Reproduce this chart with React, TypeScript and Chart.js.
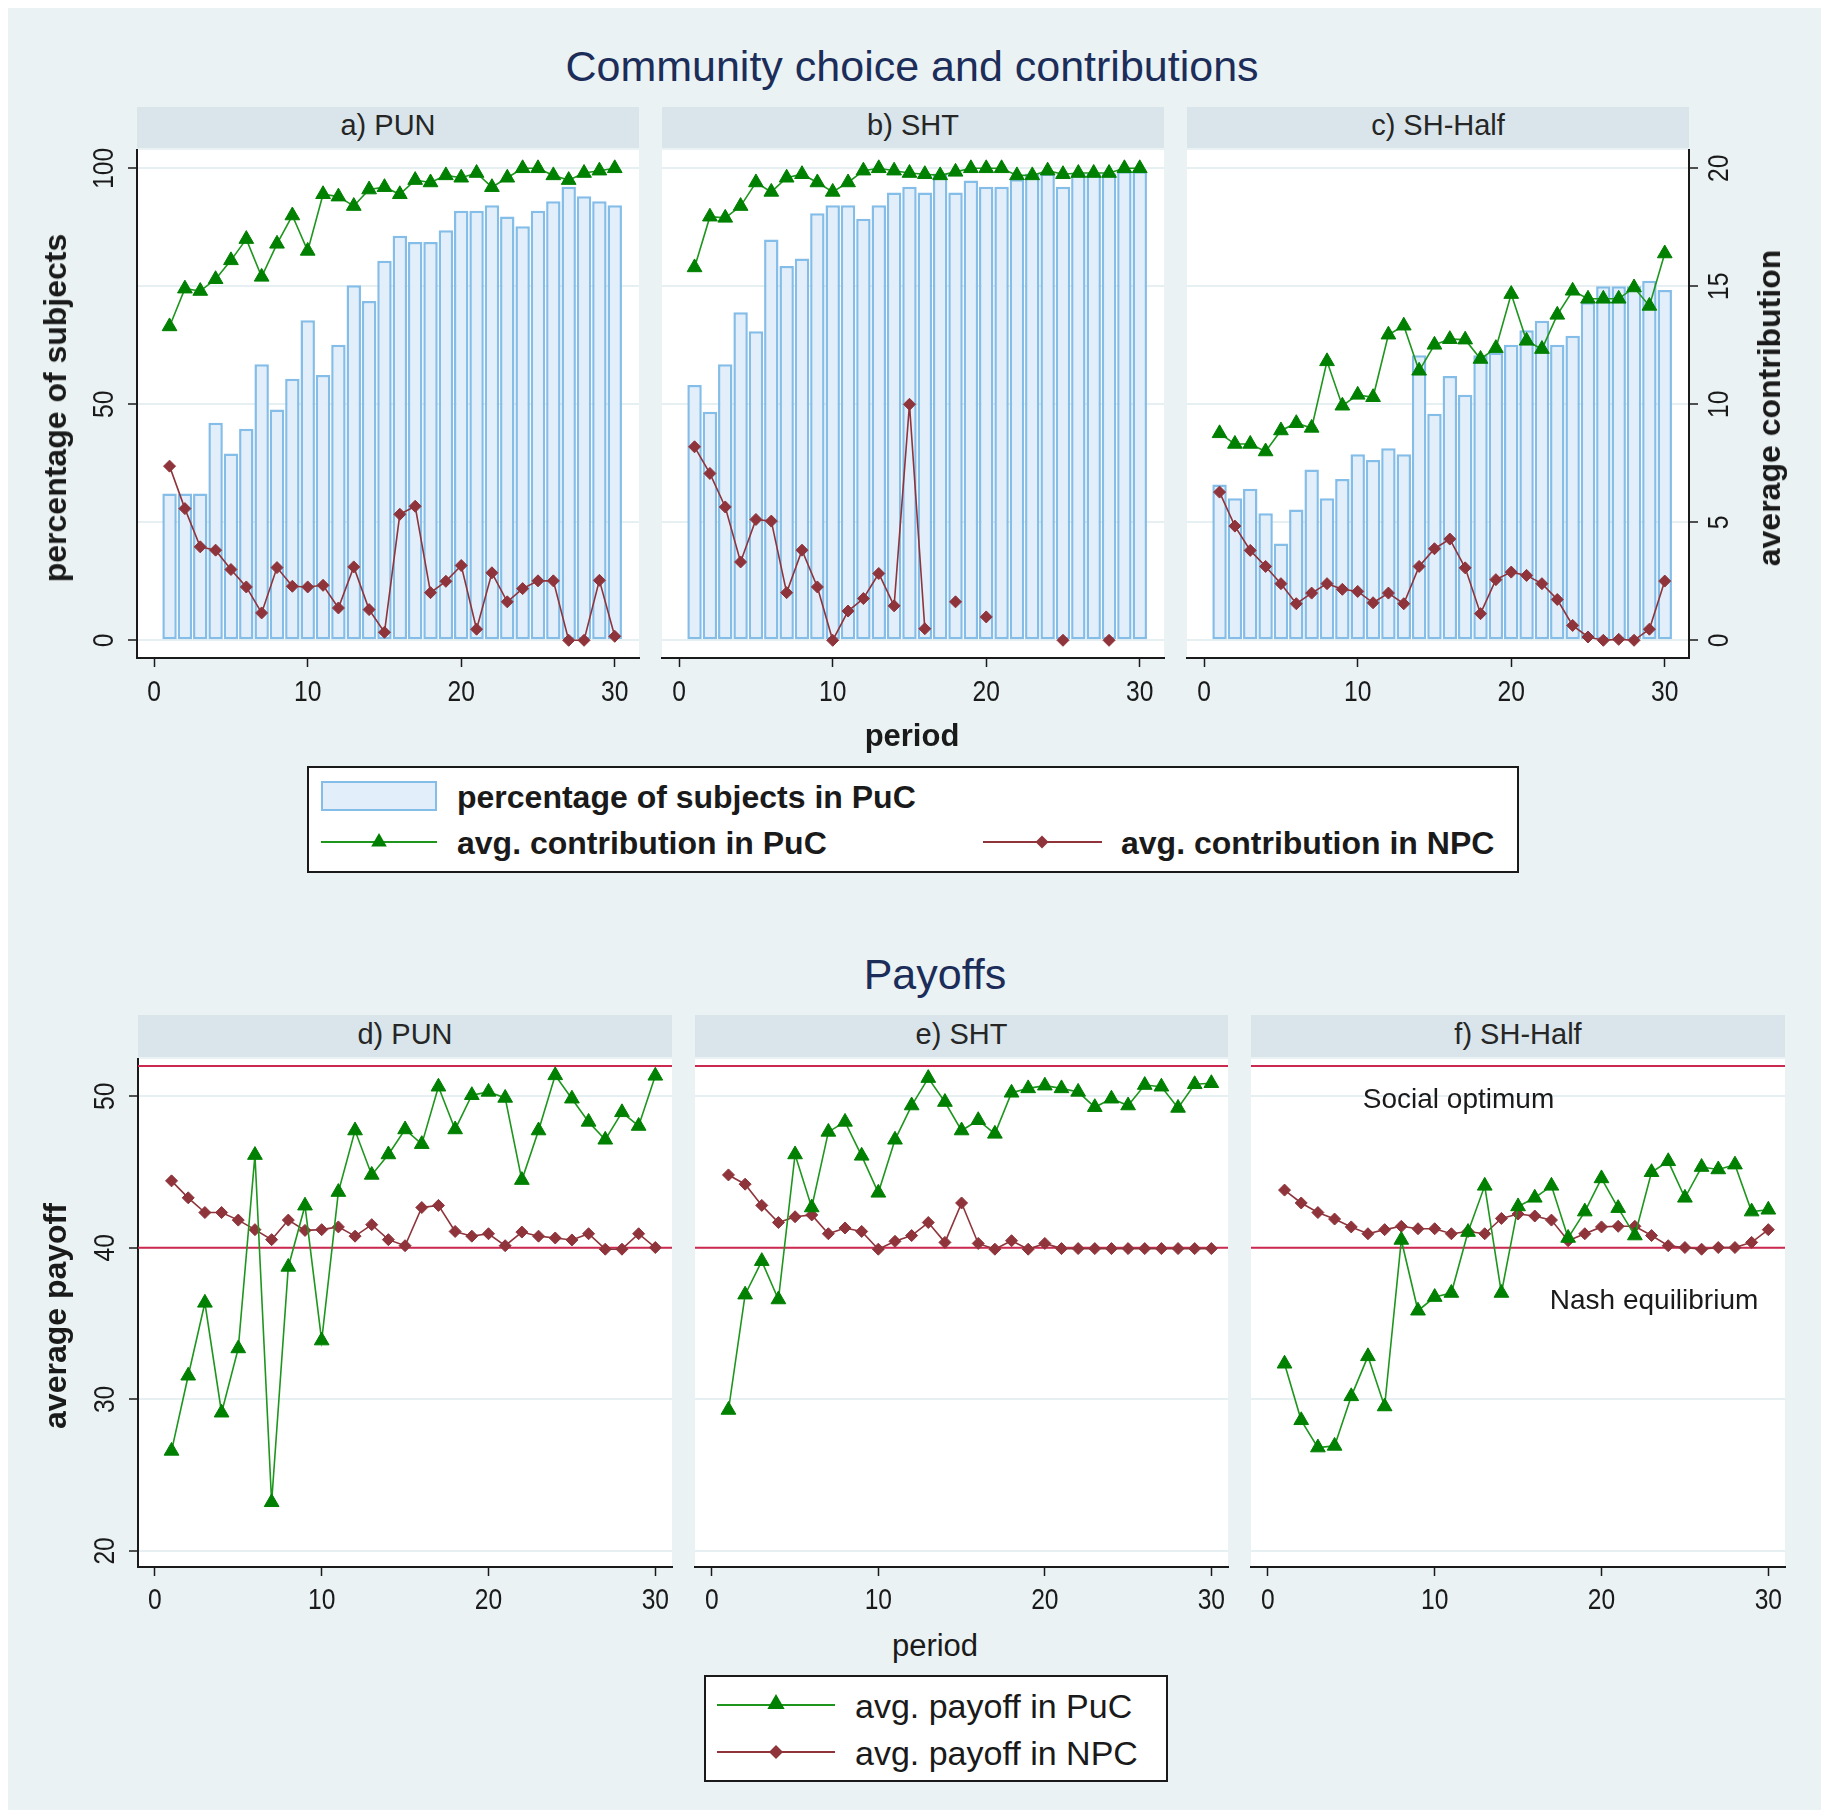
import React, { useEffect, useRef } from "react";
import { Chart, registerables } from "chart.js";

Chart.register(...registerables);

// ---------------- data ----------------
const PERIODS = [1, 2, 3, 4, 5, 6, 7, 8, 9, 10, 11, 12, 13, 14, 15, 16, 17, 18, 19, 20, 21, 22, 23, 24, 25, 26, 27, 28, 29, 30];
const PERIOD_TICKS = [0, 10, 20, 30];
const SHARE_TICKS = [0, 50, 100];
const CONTRIBUTION_TICKS = [0, 5, 10, 15, 20];
const PAYOFF_TICKS = [20, 30, 40, 50];
const SOCIAL_OPTIMUM = 52;
const NASH_EQUILIBRIUM = 40;

// percentage of subjects in PuC
const PUN_SHARE = [31.1, 31.1, 31.1, 46.1, 39.6, 44.8, 58.5, 48.9, 55.4, 67.8, 56.2, 62.6, 75.2, 71.9, 80.4, 85.7, 84.4, 84.4, 86.9, 91.0, 91.0, 92.2, 89.8, 87.7, 91.0, 93.0, 96.1, 94.1, 93.0, 92.2];
const SHT_SHARE = [54.1, 48.4, 58.5, 69.5, 65.5, 84.9, 79.3, 80.9, 90.5, 92.2, 92.2, 89.3, 92.2, 94.9, 96.1, 94.9, 98.9, 94.9, 97.4, 96.1, 96.1, 97.7, 98.9, 98.9, 96.1, 98.9, 98.9, 98.9, 99.4, 99.4];
const SHHALF_SHARE = [33.0, 30.1, 32.1, 26.9, 20.5, 27.7, 36.2, 30.1, 34.2, 39.4, 38.2, 40.7, 39.4, 60.4, 48.0, 56.0, 52.0, 60.4, 61.0, 62.6, 65.7, 67.7, 62.6, 64.5, 71.6, 75.0, 75.0, 75.0, 76.2, 74.2];

// average contribution in PuC / NPC
const PUN_CONTRIB_PUC = [13.3, 14.9, 14.8, 15.3, 16.1, 17.0, 15.4, 16.8, 18.0, 16.5, 18.9, 18.8, 18.4, 19.1, 19.2, 18.9, 19.5, 19.4, 19.7, 19.6, 19.8, 19.2, 19.6, 20.0, 20.0, 19.7, 19.5, 19.8, 19.9, 20.0];
const PUN_CONTRIB_NPC = [7.38, 5.58, 3.96, 3.82, 3.0, 2.26, 1.16, 3.08, 2.29, 2.26, 2.33, 1.37, 3.11, 1.3, 0.34, 5.34, 5.68, 2.02, 2.5, 3.17, 0.47, 2.86, 1.63, 2.19, 2.52, 2.52, 0, 0, 2.54, 0.17];
const SHT_CONTRIB_PUC = [15.8, 17.95, 17.9, 18.4, 19.4, 19.0, 19.6, 19.75, 19.4, 19.0, 19.4, 19.9, 20.0, 19.9, 19.8, 19.75, 19.7, 19.85, 20.0, 20.0, 20.0, 19.7, 19.7, 19.9, 19.75, 19.8, 19.8, 19.8, 20.0, 20.0];
const SHT_CONTRIB_NPC = [8.2, 7.07, 5.65, 3.32, 5.12, 5.05, 2.02, 3.82, 2.26, 0, 1.24, 1.77, 2.83, 1.46, 10.0, 0.49, null, 1.63, null, 0.99, null, null, null, null, 0, null, null, 0, null, null];
const SHHALF_CONTRIB_PUC = [8.77, 8.32, 8.32, 8.0, 8.89, 9.2, 9.0, 11.82, 9.94, 10.4, 10.3, 12.95, 13.33, 11.42, 12.52, 12.76, 12.74, 11.92, 12.38, 14.67, 12.69, 12.34, 13.79, 14.81, 14.47, 14.47, 14.47, 14.95, 14.17, 16.39];
const SHHALF_CONTRIB_NPC = [6.28, 4.84, 3.81, 3.13, 2.4, 1.55, 2.0, 2.4, 2.16, 2.07, 1.59, 2.0, 1.55, 3.13, 3.88, 4.29, 3.07, 1.13, 2.57, 2.89, 2.75, 2.4, 1.73, 0.63, 0.14, 0, 0.04, 0, 0.47, 2.51];

// average payoff in PuC / NPC
const PUN_PAY_PUC = [26.6, 31.56, 36.37, 29.12, 33.36, 46.12, 23.21, 38.74, 42.78, 33.88, 43.68, 47.74, 44.81, 46.16, 47.81, 46.84, 50.63, 47.81, 50.07, 50.29, 49.89, 44.47, 47.74, 51.38, 49.84, 48.31, 47.13, 48.94, 48.04, 51.35];
const PUN_PAY_NPC = [44.42, 43.3, 42.33, 42.33, 41.83, 41.2, 40.54, 41.83, 41.15, 41.2, 41.38, 40.77, 41.53, 40.54, 40.14, 42.66, 42.8, 41.08, 40.77, 40.93, 40.14, 41.04, 40.77, 40.65, 40.52, 40.93, 39.91, 39.91, 40.93, 40.02];
const SHT_PAY_PUC = [29.3, 36.91, 39.12, 36.59, 46.16, 42.66, 47.65, 48.31, 46.07, 43.63, 47.13, 49.39, 51.2, 49.62, 47.74, 48.42, 47.52, 50.23, 50.52, 50.7, 50.52, 50.29, 49.28, 49.84, 49.39, 50.74, 50.63, 49.23, 50.79, 50.86];
const SHT_PAY_NPC = [44.81, 44.2, 42.8, 41.67, 42.05, 42.17, 40.93, 41.31, 41.08, 39.91, 40.43, 40.81, 41.67, 40.36, 42.96, 40.29, 39.91, 40.47, 39.91, 40.29, 39.95, 39.95, 39.95, 39.95, 39.95, 39.95, 39.95, 39.95, 39.95, 39.95];
const SHHALF_PAY_PUC = [32.35, 28.62, 26.82, 26.93, 30.2, 32.84, 29.53, 40.52, 35.85, 36.75, 37.02, 41.04, 44.09, 37.02, 42.73, 43.3, 44.09, 40.65, 42.39, 44.58, 42.62, 40.81, 44.99, 45.71, 43.3, 45.33, 45.17, 45.49, 42.39, 42.51];
const SHHALF_PAY_NPC = [43.81, 42.96, 42.33, 41.9, 41.38, 40.93, 41.2, 41.42, 41.26, 41.26, 40.93, 41.08, 40.93, 41.94, 42.23, 42.1, 41.83, 40.47, 40.93, 41.38, 41.42, 41.42, 40.81, 40.14, 40.02, 39.91, 40.02, 40.02, 40.36, 41.2];

const PANEL_TITLES_TOP = ["a) PUN", "b) SHT", "c) SH-Half"];
const PANEL_TITLES_BOTTOM = ["d) PUN", "e) SHT", "f) SH-Half"];

const NOTES_SH_HALF = [
  { text: "Social optimum", period: 11.43, payoff: 49.25 },
  { text: "Nash equilibrium", period: 23.15, payoff: 35.95 },
];

// ---------------- style ----------------
const BG = "#EAF2F3";
const STRIP = "#D9E5EA";
const GRID = "#E6EFF1";
const AXIS = "#1a1a1a";
const TEXT = "#1a1a1a";
const TITLE = "#1C2D5A";
const GREEN = "#008000";
const GREEN_LINE = "#1E961E";
const RED = "#8F343B";
const CRIMSON = "#CC2950";
const BAR_FILL = "#E2EEF9";
const BAR_EDGE = "#84BDE8";
const FONT = '"Liberation Sans", Arial, Helvetica, sans-serif';
const TICK_SIZE = 30;

const OFF = 8; // body margin
const M = { l: 80, r: 80, t: 4, b: 60 };

const TOP_ROW = { top: 150, bottom: 658, xMin: -1.12, xMax: 31.58, yMin: -3.75, yMax: 103.88, y2Min: -0.75, y2Max: 20.776 };
const BOTTOM_ROW = { top: 1059, bottom: 1567, xMin: -1.01, xMax: 31.0, yMin: 18.94, yMax: 52.46 };
const TOP_COLS = [[137, 639], [662, 1164], [1187, 1689]];
const BOTTOM_COLS = [[138, 672], [695, 1228], [1251, 1785]];

// ---------------- font detection ----------------
function hasFont(name: string): boolean {
  try {
    const c = document.createElement("canvas").getContext("2d")!;
    c.font = `30px ${name}, monospace`;
    const a = c.measureText("0123456789 abcdef").width;
    c.font = "30px monospace";
    const b = c.measureText("0123456789 abcdef").width;
    return Math.abs(a - b) > 0.5;
  } catch (e) {
    return false;
  }
}
const HAS_NARROW = hasFont('"Liberation Sans Narrow"');

function drawTickText(ctx: CanvasRenderingContext2D, text: string, x: number, y: number, rotate: boolean) {
  ctx.save();
  ctx.translate(x, y);
  if (rotate) ctx.rotate(-Math.PI / 2);
  if (!HAS_NARROW) ctx.scale(0.82, 1);
  ctx.font = `${TICK_SIZE}px ${HAS_NARROW ? '"Liberation Sans Narrow"' : '"Liberation Sans"'}`;
  ctx.fillStyle = TEXT;
  ctx.textAlign = "center";
  ctx.textBaseline = "middle";
  ctx.fillText(text, 0, 0);
  ctx.restore();
}

type PluginOpts = {
  leftLabels: boolean;
  rightLabels: boolean;
  xLabelOffset: number;
  refLines?: number[];
  notes?: { text: string; period: number; payoff: number }[];
};

function makePlugin(o: PluginOpts) {
  return {
    id: "stataPanel",
    beforeDraw(chart: any) {
      const { ctx, chartArea: a } = chart;
      ctx.save();
      ctx.fillStyle = "#ffffff";
      ctx.fillRect(a.left, a.top, a.right - a.left, a.bottom - a.top);
      ctx.restore();
    },
    beforeDatasetsDraw(chart: any) {
      if (!o.refLines) return;
      const { ctx, chartArea: a } = chart;
      const ys = chart.scales.y;
      ctx.save();
      ctx.strokeStyle = CRIMSON;
      ctx.lineWidth = 2;
      o.refLines.forEach((v) => {
        const py = ys.getPixelForValue(v);
        ctx.beginPath();
        ctx.moveTo(a.left, py);
        ctx.lineTo(a.right, py);
        ctx.stroke();
      });
      ctx.restore();
    },
    afterDraw(chart: any) {
      const { ctx, chartArea: a } = chart;
      const xs = chart.scales.x;
      xs.ticks.forEach((t: any) => drawTickText(ctx, String(t.value), xs.getPixelForValue(t.value), a.bottom + o.xLabelOffset, false));
      if (o.leftLabels) {
        const ys = chart.scales.y;
        ys.ticks.forEach((t: any) => drawTickText(ctx, String(t.value), a.left - 32, ys.getPixelForValue(t.value), true));
      }
      if (o.rightLabels && chart.scales.y2) {
        const ys = chart.scales.y2;
        ys.ticks.forEach((t: any) => drawTickText(ctx, String(t.value), a.right + 31, ys.getPixelForValue(t.value), true));
      }
      if (o.notes) {
        ctx.save();
        ctx.font = `28px ${FONT}`;
        ctx.fillStyle = TEXT;
        ctx.textAlign = "center";
        ctx.textBaseline = "alphabetic";
        o.notes.forEach((n) => {
          ctx.fillText(n.text, xs.getPixelForValue(n.period), chart.scales.y.getPixelForValue(n.payoff));
        });
        ctx.restore();
      }
    },
  };
}

const pts = (vals: (number | null)[]) => PERIODS.map((x, i) => ({ x, y: vals[i] }));

function xScale(min: number, max: number) {
  return {
    type: "linear",
    min,
    max,
    offset: false,
    afterFit: (s: any) => {
      s.height = M.b;
    },
    afterBuildTicks: (s: any) => {
      s.ticks = PERIOD_TICKS.map((v) => ({ value: v }));
    },
    ticks: { display: false },
    grid: { display: true, offset: false, drawOnChartArea: false, drawTicks: true, tickLength: 9, tickColor: AXIS, tickWidth: 1.5 },
    border: { display: true, color: AXIS, width: 2 },
  };
}

function yScale(position: string, min: number, max: number, ticks: number[], showAxis: boolean) {
  return {
    type: "linear",
    position,
    min,
    max,
    afterFit: (s: any) => {
      s.width = position === "left" ? M.l : M.r;
    },
    afterBuildTicks: (s: any) => {
      s.ticks = ticks.map((v) => ({ value: v }));
    },
    ticks: { display: false },
    grid: { display: true, color: GRID, lineWidth: 2, drawTicks: showAxis, tickLength: 9, tickColor: AXIS, tickWidth: 1.5 },
    border: { display: showAxis, color: AXIS, width: 2 },
  };
}

function lineDataset(label: string, vals: (number | null)[], axis: string, puc: boolean) {
  return {
    type: "line",
    label,
    data: pts(vals),
    yAxisID: axis,
    borderColor: puc ? GREEN_LINE : RED,
    borderWidth: 1.6,
    pointStyle: puc ? "triangle" : "rectRot",
    pointRadius: puc ? 8.5 : 6,
    pointBackgroundColor: puc ? GREEN : RED,
    pointBorderColor: puc ? GREEN : RED,
    pointBorderWidth: 1,
    tension: 0,
    spanGaps: false,
    order: puc ? 0 : 1,
  };
}

type TopSpec = { share: number[]; puc: number[]; npc: (number | null)[]; left: boolean; right: boolean };
type BottomSpec = { puc: number[]; npc: number[]; left: boolean; notes?: { text: string; period: number; payoff: number }[] };

const baseOptions = {
  responsive: false,
  animation: false,
  events: [],
  layout: { autoPadding: false, padding: { top: M.t, left: 0, right: 0, bottom: 0 } },
  plugins: { legend: { display: false }, tooltip: { enabled: false } },
};

function topConfig(s: TopSpec): any {
  return {
    type: "bar",
    data: {
      datasets: [
        lineDataset("avg. contribution in PuC", s.puc, "y2", true),
        lineDataset("avg. contribution in NPC", s.npc, "y2", false),
        {
          type: "bar",
          label: "percentage of subjects in PuC",
          data: pts(s.share),
          yAxisID: "y",
          backgroundColor: BAR_FILL,
          borderColor: BAR_EDGE,
          borderWidth: 2.5,
          borderSkipped: false,
          barPercentage: 0.94,
          categoryPercentage: 1,
          order: 2,
        },
      ],
    },
    options: {
      ...baseOptions,
      scales: {
        x: xScale(TOP_ROW.xMin, TOP_ROW.xMax),
        y: yScale("left", TOP_ROW.yMin, TOP_ROW.yMax, SHARE_TICKS, s.left),
        y2: yScale("right", TOP_ROW.y2Min, TOP_ROW.y2Max, CONTRIBUTION_TICKS, s.right),
      },
    },
    plugins: [makePlugin({ leftLabels: s.left, rightLabels: s.right, xLabelOffset: 35 })],
  };
}

function bottomConfig(s: BottomSpec): any {
  return {
    type: "line",
    data: {
      datasets: [lineDataset("avg. payoff in PuC", s.puc, "y", true), lineDataset("avg. payoff in NPC", s.npc, "y", false)],
    },
    options: {
      ...baseOptions,
      scales: {
        x: xScale(BOTTOM_ROW.xMin, BOTTOM_ROW.xMax),
        y: yScale("left", BOTTOM_ROW.yMin, BOTTOM_ROW.yMax, PAYOFF_TICKS, s.left),
        y2: { type: "linear", position: "right", display: true, min: 0, max: 1, afterFit: (sc: any) => { sc.width = M.r; }, ticks: { display: false }, grid: { display: false }, border: { display: false } },
      },
    },
    plugins: [makePlugin({ leftLabels: s.left, rightLabels: false, xLabelOffset: 34, refLines: [SOCIAL_OPTIMUM, NASH_EQUILIBRIUM], notes: s.notes })],
  };
}

function ChartCanvas({ config, left, right, top, bottom }: { config: any; left: number; right: number; top: number; bottom: number }) {
  const ref = useRef<HTMLCanvasElement>(null);
  const w = right - left + M.l + M.r;
  const h = bottom - top + M.t + M.b;
  useEffect(() => {
    const chart = new Chart(ref.current as HTMLCanvasElement, config);
    return () => chart.destroy();
  }, []);
  return (
    <canvas
      ref={ref}
      width={w}
      height={h}
      style={{ position: "absolute", left: left - M.l - OFF, top: top - M.t - OFF, width: w, height: h }}
    />
  );
}

function Txt({ x, y, size, bold, color, rotate, align, children }: any) {
  const tx = align === "left" ? "0" : "-50%";
  return (
    <div
      style={{
        position: "absolute",
        left: x - OFF,
        top: y - OFF,
        transform: `translate(${tx}, -50%)${rotate ? " rotate(-90deg)" : ""}`,
        transformOrigin: align === "left" ? "0 50%" : "50% 50%",
        fontSize: size,
        fontWeight: bold ? 700 : 400,
        color: color || TEXT,
        lineHeight: 1,
        whiteSpace: "nowrap",
        fontFamily: FONT,
      }}
    >
      {children}
    </div>
  );
}

function Strip({ x1, x2, y1, y2, label }: any) {
  return (
    <div
      style={{
        position: "absolute",
        left: x1 - OFF,
        top: y1 - OFF,
        width: x2 - x1,
        height: y2 - y1,
        background: STRIP,
        display: "flex",
        alignItems: "center",
        justifyContent: "center",
        fontSize: 29,
        fontFamily: FONT,
        color: "#262626",
        lineHeight: 1,
        boxSizing: "border-box",
        paddingBottom: 4,
      }}
    >
      {label}
    </div>
  );
}

function Box({ x1, y1, x2, y2 }: any) {
  return (
    <div
      style={{
        position: "absolute",
        left: x1 - OFF,
        top: y1 - OFF,
        width: x2 - x1,
        height: y2 - y1,
        background: "#fff",
        border: `2px solid ${AXIS}`,
        boxSizing: "border-box",
      }}
    />
  );
}

function Tri({ cx, cy, r, color }: any) {
  const p = `${cx},${cy - r} ${cx + r * 0.866},${cy + r * 0.5} ${cx - r * 0.866},${cy + r * 0.5}`;
  return <polygon points={p} fill={color} />;
}
function Dia({ cx, cy, r, color }: any) {
  const p = `${cx},${cy - r} ${cx + r},${cy} ${cx},${cy + r} ${cx - r},${cy}`;
  return <polygon points={p} fill={color} />;
}

export default function App() {
  const topSpecs: TopSpec[] = [
    { share: PUN_SHARE, puc: PUN_CONTRIB_PUC, npc: PUN_CONTRIB_NPC, left: true, right: false },
    { share: SHT_SHARE, puc: SHT_CONTRIB_PUC, npc: SHT_CONTRIB_NPC, left: false, right: false },
    { share: SHHALF_SHARE, puc: SHHALF_CONTRIB_PUC, npc: SHHALF_CONTRIB_NPC, left: false, right: true },
  ];
  const bottomSpecs: BottomSpec[] = [
    { puc: PUN_PAY_PUC, npc: PUN_PAY_NPC, left: true },
    { puc: SHT_PAY_PUC, npc: SHT_PAY_NPC, left: false },
    { puc: SHHALF_PAY_PUC, npc: SHHALF_PAY_NPC, left: false, notes: NOTES_SH_HALF },
  ];
  return (
    <div style={{ position: "relative", width: 1813, height: 1802, background: BG, overflow: "hidden", fontFamily: FONT }}>
      {/* titles */}
      <Txt x={912} y={66} size={43} color={TITLE}>Community choice and contributions</Txt>
      <Txt x={935} y={974} size={43} color={TITLE}>Payoffs</Txt>

      {/* strips */}
      {TOP_COLS.map((c, i) => (
        <Strip key={"ts" + i} x1={c[0]} x2={c[1]} y1={107} y2={148} label={PANEL_TITLES_TOP[i]} />
      ))}
      {BOTTOM_COLS.map((c, i) => (
        <Strip key={"bs" + i} x1={c[0]} x2={c[1]} y1={1015} y2={1057} label={PANEL_TITLES_BOTTOM[i]} />
      ))}

      {/* charts */}
      {TOP_COLS.map((c, i) => (
        <ChartCanvas key={"tc" + i} config={topConfig(topSpecs[i])} left={c[0]} right={c[1]} top={TOP_ROW.top} bottom={TOP_ROW.bottom} />
      ))}
      {BOTTOM_COLS.map((c, i) => (
        <ChartCanvas key={"bc" + i} config={bottomConfig(bottomSpecs[i])} left={c[0]} right={c[1]} top={BOTTOM_ROW.top} bottom={BOTTOM_ROW.bottom} />
      ))}

      {/* axis titles */}
      <Txt x={55} y={408} size={32} bold rotate>percentage of subjects</Txt>
      <Txt x={1769} y={408} size={32} bold rotate>average contribution</Txt>
      <Txt x={912} y={735} size={31} bold>period</Txt>
      <Txt x={55} y={1316} size={32} bold rotate>average payoff</Txt>
      <Txt x={935} y={1645} size={31}>period</Txt>

      {/* legend 1 */}
      <Box x1={307} y1={766} x2={1519} y2={873} />
      <div style={{ position: "absolute", left: 321 - OFF, top: 781 - OFF, width: 116, height: 30, background: BAR_FILL, border: `2px solid ${BAR_EDGE}`, boxSizing: "border-box" }} />
      <Txt x={457} y={797} size={32} bold align="left">percentage of subjects in PuC</Txt>
      <Txt x={457} y={843} size={32} bold align="left">avg. contribution in PuC</Txt>
      <Txt x={1121} y={843} size={32} bold align="left">avg. contribution in NPC</Txt>

      {/* legend 2 */}
      <Box x1={704} y1={1675} x2={1168} y2={1782} />
      <Txt x={855} y={1706} size={34} align="left">avg. payoff in PuC</Txt>
      <Txt x={855} y={1753} size={34} align="left">avg. payoff in NPC</Txt>

      <svg style={{ position: "absolute", left: -OFF, top: -OFF }} width={1829} height={1818}>
        <line x1={321} x2={437} y1={842} y2={842} stroke={GREEN_LINE} strokeWidth={2} />
        <Tri cx={379} cy={842} r={9} color={GREEN} />
        <line x1={983} x2={1102} y1={842} y2={842} stroke={RED} strokeWidth={2} />
        <Dia cx={1042} cy={842} r={6.5} color={RED} />
        <line x1={717} x2={835} y1={1705} y2={1705} stroke={GREEN_LINE} strokeWidth={2} />
        <Tri cx={776} cy={1704} r={10} color={GREEN} />
        <line x1={717} x2={835} y1={1752} y2={1752} stroke={RED} strokeWidth={2} />
        <Dia cx={776} cy={1752} r={7} color={RED} />
      </svg>
    </div>
  );
}
